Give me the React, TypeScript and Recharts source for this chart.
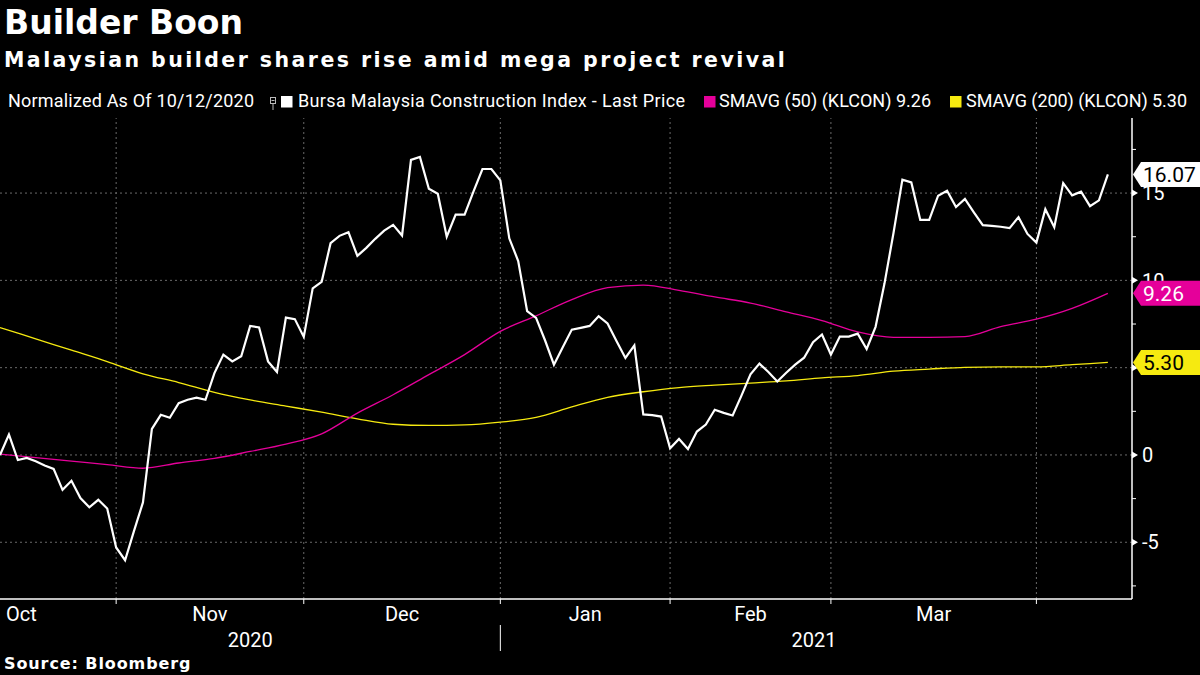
import { Line, LineChart, ReferenceLine, XAxis, YAxis } from "recharts";

// Bursa Malaysia Construction Index, % change since 10/12/2020, one value per trading day
const closes = [
  0, 1.17, -0.29, -0.17, -0.36, -0.6, -0.8, -2.0, -1.48, -2.47,
  -3.0, -2.57, -3.07, -5.3, -6.03, -4.35, -2.72, 1.49, 2.3, 2.13,
  2.97, 3.16, 3.28, 3.16, 4.69, 5.75, 5.36, 5.65, 7.39, 7.3,
  5.36, 4.75, 7.87, 7.78, 6.76, 9.54, 9.92, 12.13, 12.55, 12.76,
  11.4, 11.86, 12.38, 12.85, 13.18, 12.57, 16.9, 17.07, 15.25, 14.96,
  12.5, 13.77, 13.77, 15.1, 16.38, 16.38, 15.73, 12.41, 11.11, 8.24,
  7.85, 6.57, 5.17, 6.19, 7.18, 7.28, 7.39, 7.95, 7.53, 6.53,
  5.56, 6.28, 2.32, 2.28, 2.2, 0.38, 0.92, 0.34, 1.34, 1.74,
  2.59, 2.41, 2.26, 3.41, 4.62, 5.23, 4.75, 4.21, 4.71, 5.17,
  5.57, 6.46, 6.9, 5.75, 6.78, 6.78, 6.95, 6.07, 7.34, 9.83,
  12.7, 15.77, 15.61, 13.47, 13.47, 14.85, 15.13, 14.2, 14.67, 13.9,
  13.16, 13.12, 13.07, 12.99, 13.62, 12.66, 12.16, 14.08, 13.05, 15.57,
  14.87, 15.08, 14.25, 14.58, 16.07,
];

// moving averages, sampled every fourth trading day
const sampleDays = [
  0, 4, 8, 12, 16, 20, 24, 28, 32, 36, 40, 44, 48, 52, 56, 60,
  64, 68, 72, 76, 80, 84, 88, 92, 96, 100, 104, 108, 112, 116, 120, 124,
];
const sma50 = [
  0.05, -0.15, -0.35, -0.55, -0.76, -0.46, -0.2, 0.2, 0.62, 1.21, 2.4, 3.45, 4.6, 5.75, 7.08, 7.97,
  8.9, 9.58, 9.73, 9.43, 9.05, 8.7, 8.2, 7.7, 7.05, 6.74, 6.74, 6.78, 7.35, 7.78, 8.4, 9.26,
];
const sma200 = [
  7.3, 6.65, 6.0, 5.35, 4.65, 4.15, 3.58, 3.15, 2.8, 2.45, 2.07, 1.76, 1.69, 1.72, 1.88, 2.15,
  2.75, 3.3, 3.62, 3.86, 4.0, 4.12, 4.24, 4.42, 4.55, 4.8, 4.92, 5.02, 5.04, 5.04, 5.17, 5.3,
];

// first trading day of each month (Nov .. Apr)
const monthStarts = [13, 34, 56, 75, 93, 116];
const monthNames = ["Oct", "Nov", "Dec", "Jan", "Feb", "Mar"];
const monthCenters = [2.4, 23.5, 45, 65.5, 84, 104.5];
const yearNames = ["2020", "2021"];
const yearCenters = [28, 91.1];
const yearBreak = 56;

const yTicks = [-7.5, -5, -2.5, 0, 2.5, 5, 7.5, 10, 12.5, 15, 17.5];
const yLabelled = [-5, 0, 5, 10, 15];

const WHITE = "#ffffff";
const MAGENTA = "#e5009a";
const YELLOW = "#f6ea10";
const GRID = "#6a6a6a";
const AXIS_FONT = "Roboto, 'Noto Sans', sans-serif";
const TITLE_FONT = "'DejaVu Sans', Verdana, sans-serif";

const closeData = closes.map((v, i) => ({ i, v }));
const sma50Data = sampleDays.map((i, k) => ({ i, v: sma50[k] }));
const sma200Data = sampleDays.map((i, k) => ({ i, v: sma200[k] }));

const lastClose = closes[closes.length - 1];
const last50 = sma50[sma50.length - 1];
const last200 = sma200[sma200.length - 1];

// last-value tags sit on the value axis, drawn after the tick labels so they cover them
const tags = [
  { value: last200, fill: YELLOW, color: "#000" },
  { value: last50, fill: MAGENTA, color: WHITE },
  { value: lastClose, fill: WHITE, color: "#000" },
];
const axisTicks = [...yTicks, ...tags.map((t) => t.value)];

const X_DOMAIN: [number, number] = [0, 126.7];

function YTick(props: any) {
  const { x, y, index } = props;
  const tag = index >= yTicks.length ? tags[index - yTicks.length] : null;
  if (tag) {
    const h = 25;
    return (
      <g>
        <path
          d={`M${x + 1},${y} L${x + 9},${y - h / 2} L${x + 68},${y - h / 2} L${x + 68},${y + h / 2} L${x + 9},${y + h / 2} Z`}
          fill={tag.fill}
        />
        <text x={x + 11} y={y} dy="0.36em" fill={tag.color} fontSize={21} fontFamily={AXIS_FONT}>
          {tag.value.toFixed(2)}
        </text>
      </g>
    );
  }
  const v = yTicks[index];
  if (!yLabelled.includes(v)) {
    return <line x1={x} x2={x + 4} y1={y} y2={y} stroke={WHITE} strokeWidth={1} />;
  }
  return (
    <g>
      <path d={`M${x},${y - 3.5} L${x + 6},${y} L${x},${y + 3.5} Z`} fill={WHITE} />
      <text x={x + 10} y={y} dy="0.36em" fill={WHITE} fontSize={20} fontFamily={AXIS_FONT}>
        {v}
      </text>
    </g>
  );
}

function MonthTickMark(props: any) {
  const { x, y } = props;
  return <line x1={x} x2={x} y1={y} y2={y + 5} stroke={WHITE} strokeWidth={1} />;
}

function MonthLabel(props: any) {
  const { x, y, index } = props;
  return (
    <text x={x} y={y + 14} textAnchor="middle" fill={WHITE} fontSize={20} fontFamily={AXIS_FONT}>
      {monthNames[index]}
    </text>
  );
}

function YearLabel(props: any) {
  const { x, y, payload } = props;
  if (payload.value === yearBreak) {
    return <line x1={x} x2={x} y1={y - 8} y2={y + 18} stroke={WHITE} strokeWidth={1} />;
  }
  const k = yearCenters.indexOf(payload.value);
  return (
    <text x={x} y={y + 14} textAnchor="middle" fill={WHITE} fontSize={20} fontFamily={AXIS_FONT}>
      {yearNames[k]}
    </text>
  );
}

function Legend() {
  const text = { fill: WHITE, fontSize: 18, fontFamily: AXIS_FONT };
  return (
    <svg style={{ position: "absolute", left: 0, top: 88 }} width={1200} height={26}>
      <text x={8} y={19} textLength={246} lengthAdjust="spacing" {...text}>
        Normalized As Of 10/12/2020
      </text>
      <rect x={270.5} y={9.5} width={5} height={6} fill="none" stroke="#bbb" strokeWidth={1} />
      <line x1={271.5} x2={274.5} y1={12.5} y2={12.5} stroke="#bbb" strokeWidth={1} />
      <line x1={273} x2={273} y1={15.5} y2={22} stroke="#bbb" strokeWidth={1} />
      <rect x={281} y={8} width={11.5} height={11.5} fill={WHITE} />
      <text x={298} y={19} textLength={387} lengthAdjust="spacing" {...text}>
        Bursa Malaysia Construction Index - Last Price
      </text>
      <rect x={704} y={8} width={11.5} height={11.5} fill={MAGENTA} />
      <text x={719} y={19} textLength={212} lengthAdjust="spacing" {...text}>
        SMAVG (50) (KLCON) 9.26
      </text>
      <rect x={950} y={8} width={11.5} height={11.5} fill={YELLOW} />
      <text x={966} y={19} textLength={221} lengthAdjust="spacing" {...text}>
        SMAVG (200) (KLCON) 5.30
      </text>
    </svg>
  );
}

export default function App() {
  return (
    <div
      style={{
        position: "fixed",
        left: 0,
        top: 0,
        width: 1200,
        height: 675,
        background: "#000",
        overflow: "hidden",
      }}
    >
      <div
        style={{
          position: "absolute",
          left: 4,
          top: 3,
          fontFamily: TITLE_FONT,
          fontWeight: "bold",
          fontSize: 33,
          lineHeight: "40px",
          color: WHITE,
        }}
      >
        Builder Boon
      </div>
      <div
        style={{
          position: "absolute",
          left: 4,
          top: 47,
          fontFamily: TITLE_FONT,
          fontWeight: "bold",
          fontSize: 20.5,
          letterSpacing: 2.45,
          lineHeight: "26px",
          color: WHITE,
          whiteSpace: "nowrap",
        }}
      >
        Malaysian builder shares rise amid mega project revival
      </div>

      <Legend />

      <div style={{ position: "absolute", left: 0, top: 0 }}>
        <LineChart width={1200} height={675} margin={{ top: 118, right: 0, bottom: 16, left: 0 }}>
          <XAxis
            dataKey="i"
            type="number"
            domain={X_DOMAIN}
            allowDataOverflow
            ticks={monthStarts}
            interval={0}
            height={8}
            tickSize={0}
            tickMargin={0}
            axisLine={{ stroke: WHITE, strokeWidth: 1.5 }}
            tickLine={false}
            tick={<MonthTickMark />}
          />
          <XAxis
            xAxisId="month"
            dataKey="i"
            type="number"
            domain={X_DOMAIN}
            allowDataOverflow
            ticks={monthCenters}
            interval={0}
            height={26}
            tickSize={0}
            tickMargin={0}
            axisLine={false}
            tickLine={false}
            tick={<MonthLabel />}
          />
          <XAxis
            xAxisId="year"
            dataKey="i"
            type="number"
            domain={X_DOMAIN}
            allowDataOverflow
            ticks={[yearCenters[0], yearBreak, yearCenters[1]]}
            interval={0}
            height={26}
            tickSize={0}
            tickMargin={0}
            axisLine={false}
            tickLine={false}
            tick={<YearLabel />}
          />
          <YAxis
            orientation="right"
            type="number"
            domain={[-8.25, 19.3]}
            allowDataOverflow
            ticks={axisTicks}
            interval={0}
            width={68}
            tickSize={0}
            tickMargin={0}
            axisLine={{ stroke: WHITE, strokeWidth: 1.5 }}
            tickLine={false}
            tick={<YTick />}
          />

          {yLabelled.map((v) => (
            <ReferenceLine key={`h${v}`} y={v} stroke={GRID} strokeDasharray="2 3" strokeWidth={1} />
          ))}
          {monthStarts.map((d) => (
            <ReferenceLine key={`v${d}`} x={d} stroke={GRID} strokeDasharray="2 3" strokeWidth={1} />
          ))}

          <Line
            data={sma200Data}
            dataKey="v"
            type="monotone"
            stroke={YELLOW}
            strokeWidth={1.3}
            dot={false}
            isAnimationActive={false}
          />
          <Line
            data={sma50Data}
            dataKey="v"
            type="monotone"
            stroke={MAGENTA}
            strokeWidth={1.3}
            dot={false}
            isAnimationActive={false}
          />
          <Line
            data={closeData}
            dataKey="v"
            type="linear"
            stroke={WHITE}
            strokeWidth={2.2}
            dot={false}
            isAnimationActive={false}
          />
        </LineChart>
      </div>

      <div
        style={{
          position: "absolute",
          left: 4,
          top: 654,
          fontFamily: TITLE_FONT,
          fontWeight: "bold",
          fontSize: 16,
          letterSpacing: 0.9,
          lineHeight: "20px",
          color: WHITE,
        }}
      >
        Source: Bloomberg
      </div>
    </div>
  );
}
